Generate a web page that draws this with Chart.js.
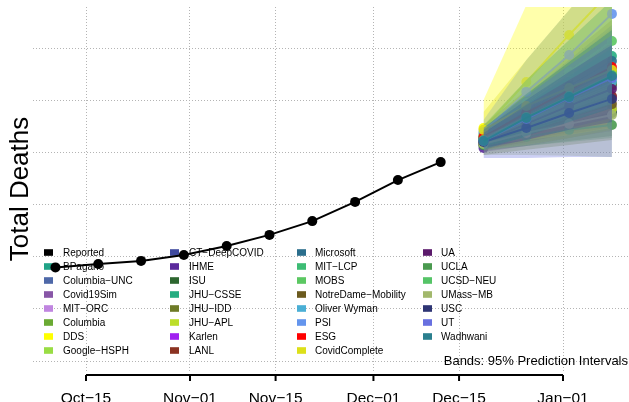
<!DOCTYPE html>
<html><head><meta charset="utf-8">
<script src="https://cdn.jsdelivr.net/npm/chart.js@4/dist/chart.umd.min.js"></script>
<style>html,body{margin:0;padding:0;background:#fff;overflow:hidden}#wrap{width:629px;height:402px;position:relative}</style>
</head><body><div id="wrap"><canvas id="c" width="629" height="402"></canvas></div>
<script>
// ---------- data ----------
const reportedDates = ['2020-10-10','2020-10-17','2020-10-24','2020-10-31','2020-11-07','2020-11-14','2020-11-21','2020-11-28','2020-12-05','2020-12-12'];
const reportedDeaths = [13600,13730,13850,14080,14420,14850,15380,16120,16960,17650];

const forecastDates = ['2020-12-19','2020-12-26','2021-01-02','2021-01-09'];
const modelNames = ['BPagano','Columbia\u2212UNC','Covid19Sim','MIT\u2212ORC','Columbia','DDS','Google\u2212HSPH',
  'CT\u2212DeepCOVID','IHME','ISU','JHU\u2212CSSE','JHU\u2212IDD','JHU\u2212APL','Karlen','LANL',
  'Microsoft','MIT\u2212LCP','MOBS','NotreDame\u2212Mobility','Oliver Wyman','PSI','ESG','CovidComplete',
  'UA','UCLA','UCSD\u2212NEU','UMass\u2212MB','USC','UT','Wadhwani'];
const fcMedian = [
  [18500,19350,20120,20880],[18540,19420,20270,21120],[18350,18810,19270,19730],[18380,18960,19500,20040],
  [18540,19310,20040,20690],[18960,20730,22540,24270],[18650,19460,20230,21040],[18460,19190,19880,20580],
  [18190,18650,19120,19580],[18310,18730,19120,19540],[18580,19650,20690,21730],[18500,19270,20000,20650],
  [18380,18850,19270,19690],[18380,19000,19580,20150],[18460,19040,19620,20190],[18580,19580,20580,21540],
  [18620,19500,20350,21190],[18730,19920,21120,22310],[18350,18890,19380,19880],[18500,19270,20040,20730],
  [18810,20350,21770,23350],[18620,19540,20420,21310],[18890,19810,20500,21190],[18420,19120,19810,20460],
  [18310,18620,18890,19080],[18500,19380,20190,21000],[18350,18770,19120,19460],[18420,18960,19540,20080],
  [18460,19310,20120,20880],[18460,19350,20150,20960]];
const fcLower = [
  [18310,18960,19620,20270],[18190,18580,18960,19350],[18120,18350,18580,18850],[18150,18540,18960,19350],
  [18120,18500,18890,19270],[18120,18500,18960,19460],[18350,18890,19350,19850],[18190,18580,18960,19380],
  [18040,18270,18580,18890],[18080,18270,18460,18650],[18120,18580,19080,19580],[17920,18120,18310,18500],
  [18120,18310,18580,18890],[18270,18730,19190,19730],[18230,18500,18810,19120],[18270,18890,19460,20040],
  [18350,18960,19580,20190],[18420,19270,20040,20810],[18120,18420,18730,19000],[18270,18810,19350,19880],
  [18420,19080,19850,20620],[18460,19270,20040,20810],[18310,18500,18690,18960],[18120,18500,18960,19350],
  [18120,18270,18420,18580],[18270,18810,19350,19880],[17920,17920,17890,17850],[18190,18500,18890,19190],
  [17810,17810,17850,17850],[18120,18650,19190,19730]];
const fcUpper = [
  [18690,19730,20620,21500],[18890,20190,21500,22810],[18580,19270,19960,20620],[18620,19350,20040,20730],
  [18960,20230,21500,22730],[20040,23690,26960,30040],[18960,20040,21190,22350],[18730,19810,20810,21770],
  [18350,18960,19580,20120],[18540,19190,19810,20420],[19040,20810,22350,23880],[19080,20420,21770,23120],
  [18690,19460,20230,21000],[18500,19270,19960,20580],[18690,19580,20420,21270],[18960,20230,21580,22920],
  [18890,20040,21120,22150],[19080,20810,22350,23880],[18580,19350,20120,20810],[18730,19730,20650,21580],
  [19270,21580,23500,25420],[18770,19810,20810,21770],[19580,21580,23500,25420],[18770,19850,20810,21770],
  [18500,18960,19350,19730],[18730,19880,20960,22040],[18650,19350,20040,20730],[18890,20040,21120,22150],
  [18960,20190,21380,22540],[18960,20270,21500,22730]];

const xTickDates = ['2020-10-15','2020-11-01','2020-11-15','2020-12-01','2020-12-15','2021-01-01'];
const xTickLabels = ['Oct\u221215','Nov\u221201','Nov\u221215','Dec\u221201','Dec\u221215','Jan\u221201'];
const yGridValues = [10000,12000,14000,16000,18000,20000,22000];

// ---------- styles ----------
const modelColors = ['#20A387','#4E68A8','#8856A7','#C085E0','#6AAA33','#FFFF00','#99DD44',
  '#3F4A9F','#5B2A9C','#2D6630','#26AD81','#6E7B27','#BCDE2A','#A020F0','#8B3322',
  '#2B6E8C','#3DBC74','#5BC862','#6B5A1E','#4AAFD5','#6495ED','#FF0000','#DDE019',
  '#5B1A6B','#4A9A4F','#55C467','#A2B86C','#2E3574','#6870E0','#2A7F8E'];
const FONT = '"Liberation Sans", Arial, Helvetica, sans-serif';

function rgba(hex, a){const n=parseInt(hex.slice(1),16);return `rgba(${n>>16&255},${n>>8&255},${n&255},${a})`;}
const ORIGIN = Date.parse('2020-10-15');
const dayOf = d => (Date.parse(d) - ORIGIN) / 864e5;
const pts = (dates, vals) => dates.map((d,i)=>({x:dayOf(d), y:vals[i]}));

const datasets = [];
modelNames.forEach((name, k) => {
  const base = 1000 - k*3;
  const col = modelColors[k];
  datasets.push({label:name+' lo', data:pts(forecastDates, fcLower[k]), borderWidth:0, pointRadius:0, fill:false, order:base});
  datasets.push({label:name+' hi', data:pts(forecastDates, fcUpper[k]), borderWidth:0, pointRadius:0, fill:'-1', backgroundColor:rgba(col,0.33), order:base});
  datasets.push({label:name, data:pts(forecastDates, fcMedian[k]), borderColor:rgba(col,0.9), borderWidth:2,
    pointRadius:5, pointBackgroundColor:rgba(col,0.9), pointBorderWidth:0, fill:false, order:base-1});
});
datasets.push({label:'Reported', data:pts(reportedDates, reportedDeaths), borderColor:'#000', borderWidth:2,
  pointRadius:5, pointBackgroundColor:'#000', pointBorderWidth:0, fill:false, order:-10});

const legendNames = ['Reported'].concat(modelNames);
const legendColors = ['#000000'].concat(modelColors);

const decor = {
  id:'decor',
  beforeDatasetsDraw(chart){
    const ctx = chart.ctx;
    ctx.save();
    const colBox = [44,170,297,423], colText=[63,189,315,441];
    ctx.font = '10px ' + FONT; ctx.textBaseline='alphabetic'; ctx.textAlign='left';
    legendNames.forEach((n,i)=>{
      const c = Math.floor(i/8), r = i%8;
      const cy = 252.5 + r*14;
      ctx.fillStyle = legendColors[i];
      ctx.fillRect(colBox[c], cy-3.3, 9, 6.6);
      ctx.fillStyle = '#000';
      ctx.fillText(n, colText[c], cy+3.3);
    });
    ctx.restore();
  },
  afterDraw(chart){
    const ctx = chart.ctx, xs = chart.scales.x;
    ctx.save();
    const x0 = xs.getPixelForValue(dayOf(xTickDates[0]));
    const x1 = xs.getPixelForValue(dayOf(xTickDates[xTickDates.length-1]));
    ctx.strokeStyle='#000'; ctx.lineWidth=2;
    ctx.beginPath(); ctx.moveTo(x0,375); ctx.lineTo(x1,375); ctx.stroke();
    ctx.font = '15.5px ' + FONT; ctx.fillStyle='#000'; ctx.textAlign='center'; ctx.textBaseline='alphabetic';
    xTickDates.forEach((d,i)=>{
      const px = xs.getPixelForValue(dayOf(d));
      ctx.beginPath(); ctx.moveTo(px,375); ctx.lineTo(px,381); ctx.stroke();
      ctx.fillText(xTickLabels[i], px, 403);
    });
    ctx.save();
    ctx.translate(28, 189); ctx.rotate(-Math.PI/2);
    ctx.font = '26px ' + FONT; ctx.textAlign='center';
    ctx.fillText('Total Deaths', 0, 0);
    ctx.restore();
    ctx.font = '13px ' + FONT; ctx.textAlign='right';
    ctx.fillText('Bands: 95% Prediction Intervals', 628, 364.5);
    ctx.restore();
  }
};

new Chart(document.getElementById('c'), {
  type:'line',
  data:{datasets},
  options:{
    responsive:false, animation:false, events:[],
    layout:{autoPadding:false, padding:{left:33, top:7, right:0, bottom:30}},
    elements:{line:{tension:0}},
    plugins:{legend:{display:false}, tooltip:{enabled:false}, filler:{propagate:false}},
    scales:{
      x:{type:'linear', min:-8.67, max:88.79,
        afterBuildTicks(s){ s.ticks = xTickDates.map(d=>({value:dayOf(d)})); },
        ticks:{display:false}, grid:{color:'#b4b4b4', lineWidth:1, drawTicks:false},
        border:{display:false, dash:[1,2]}},
      y:{type:'linear', min:9577, max:23615,
        afterBuildTicks(s){ s.ticks = yGridValues.map(v=>({value:v})); },
        ticks:{display:false}, grid:{color:'#b4b4b4', lineWidth:1, drawTicks:false},
        border:{display:false, dash:[1,2]}}
    }
  },
  plugins:[decor]
});
</script></body></html>
